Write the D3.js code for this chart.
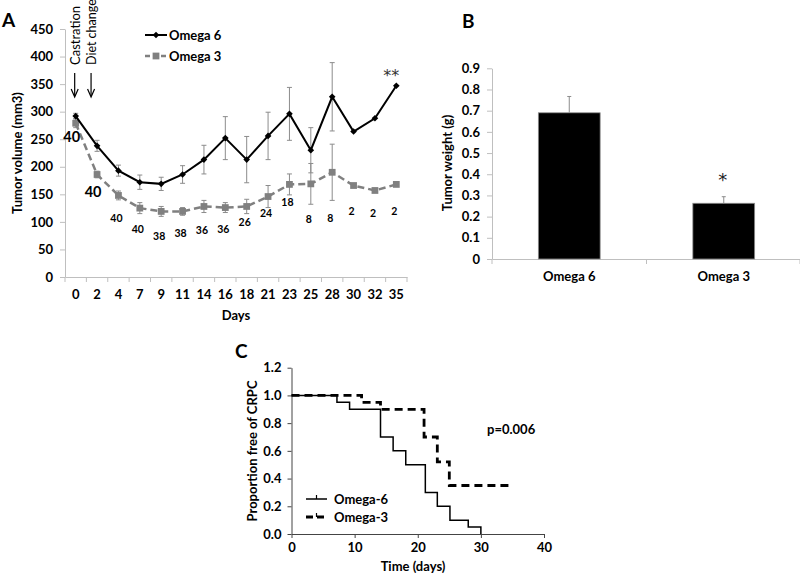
<!DOCTYPE html>
<html>
<head>
<meta charset="utf-8">
<script src="https://cdn.jsdelivr.net/npm/d3@7"></script>
<style>
  body { margin: 0; background: #fff; }
  text { font-family: Lato, "Open Sans", sans-serif; }
  text.star { font-family: "DejaVu Sans", sans-serif; }
</style>
</head>
<body>
<svg id="chart" width="800" height="573"></svg>
<script>
// Panel A: tumor volume by day
var daysA = ["0", "2", "4", "7", "9", "11", "14", "16", "18", "21", "23", "25", "28", "30", "32", "35"];
var omega6Vol = [292, 238, 193, 172, 169, 186, 213, 252, 213, 256, 296, 230, 327, 264, 288, 347];
var omega6Err = [5, 10, 10, 13, 12, 16, 26, 39, 42, 43, 48, 41, 62, null, null, null];
var omega3Vol = [279, 186, 148, 125, 119, 119, 128, 126, 128, 146, 168, 169, 190, 166, 157, 168];
var omega3Err = [8, 6, 8, 10, 9, 7, 11, 9, 13, 20, 19, 37, 51, null, null, null];
// number of mice per day, and the volume level where each count is written
var nMice = [40, 40, 40, 40, 38, 38, 36, 36, 26, 24, 18, 8, 8, 2, 2, 2];
var nLevel = [254, 154, 107, 87, 74, 80, 85, 87, 100, 116, 136, 105, 107, 120, 116, 120];
var volTicks = [0, 50, 100, 150, 200, 250, 300, 350, 400, 450];

// Panel B: tumor weight
var groupsB = ["Omega 6", "Omega 3"];
var weightB = [0.69, 0.263];
var weightErr = [0.077, 0.031];
var weightTicks = [0, 0.1, 0.2, 0.3, 0.4, 0.5, 0.6, 0.7, 0.8, 0.9];

// Panel C: Kaplan-Meier, proportion free of CRPC
var km6Time = [0, 7.2, 9.2, 14.1, 16.1, 18.1, 21.2, 23.1, 25.1, 28, 30];
var km6Prop = [1, 0.95, 0.9, 0.7, 0.6, 0.5, 0.3, 0.2, 0.1, 0.05, 0];
var km3Time = [0, 11.1, 14.1, 21, 23.1, 25, 34.6];
var km3Prop = [1, 0.95, 0.9, 0.7, 0.52, 0.35, 0.35];
var timeTicks = [0, 10, 20, 30, 40];
var propTicks = [0, 0.2, 0.4, 0.6, 0.8, 1.0, 1.2];

var svg = d3.select("#chart");

function styleAxis(g, color, size) {
  g.select(".domain").attr("stroke", color);
  g.selectAll(".tick line").attr("stroke", color);
  g.selectAll(".tick text")
    .attr("fill", "#000")
    .attr("font-size", size)
    .attr("font-weight", "bold");
}

// ---------------- Panel A ----------------
var xA = d3.scaleBand().domain(daysA).range([65, 407]);
var yA = d3.scaleLinear().domain([0, 450]).range([277, 29]);
var cA = function (d) { return xA(d) + xA.bandwidth() / 2; };

var gyA = svg.append("g")
  .attr("transform", "translate(65,0)")
  .call(d3.axisLeft(yA).tickValues(volTicks).tickSize(5).tickSizeOuter(0).tickPadding(7));
styleAxis(gyA, "#bfbfbf", 13);

var gxA = svg.append("g")
  .attr("transform", "translate(0,277)")
  .call(d3.axisBottom(xA).tickSize(0).tickPadding(13));
styleAxis(gxA, "#bfbfbf", 13);

// tick marks between categories
var boundsA = daysA.map(function (d) { return xA(d); }).concat([xA.range()[1]]);
svg.append("g").selectAll("line")
  .data(boundsA)
  .enter()
  .append("line")
  .attr("x1", function (d) { return d; })
  .attr("x2", function (d) { return d; })
  .attr("y1", 277)
  .attr("y2", 282)
  .attr("stroke", "#bfbfbf");

var o6 = daysA.map(function (d, i) { return { day: d, v: omega6Vol[i], e: omega6Err[i] }; });
var o3 = daysA.map(function (d, i) { return { day: d, v: omega3Vol[i], e: omega3Err[i] }; });

function errorBars(data) {
  var g = svg.append("g").attr("stroke", "#8c8c8c").attr("stroke-width", 1);
  data.filter(function (d) { return d.e != null; }).forEach(function (d) {
    var x = cA(d.day);
    g.append("line").attr("x1", x).attr("x2", x).attr("y1", yA(d.v - d.e)).attr("y2", yA(d.v + d.e));
    g.append("line").attr("x1", x - 2.5).attr("x2", x + 2.5).attr("y1", yA(d.v - d.e)).attr("y2", yA(d.v - d.e));
    g.append("line").attr("x1", x - 2.5).attr("x2", x + 2.5).attr("y1", yA(d.v + d.e)).attr("y2", yA(d.v + d.e));
  });
}

var lineA = d3.line()
  .x(function (d) { return cA(d.day); })
  .y(function (d) { return yA(d.v); });

// Omega 3 (grey dashed, squares)
errorBars(o3);
svg.append("path")
  .datum(o3)
  .attr("d", lineA)
  .attr("fill", "none")
  .attr("stroke", "#808080")
  .attr("stroke-width", 2.5)
  .attr("stroke-dasharray", "7,4");
svg.append("g").selectAll("path")
  .data(o3)
  .enter()
  .append("path")
  .attr("d", d3.symbol(d3.symbolSquare, 46))
  .attr("transform", function (d) { return "translate(" + cA(d.day) + "," + yA(d.v) + ")"; })
  .attr("fill", "#808080");

// Omega 6 (black solid, diamonds)
errorBars(o6);
svg.append("path")
  .datum(o6)
  .attr("d", lineA)
  .attr("fill", "none")
  .attr("stroke", "#000")
  .attr("stroke-width", 2);
svg.append("g").selectAll("path")
  .data(o6)
  .enter()
  .append("path")
  .attr("d", d3.symbol(d3.symbolSquare, 22))
  .attr("transform", function (d) { return "translate(" + cA(d.day) + "," + yA(d.v) + ") rotate(45)"; })
  .attr("fill", "#000");

// n labels
svg.append("g").selectAll("text")
  .data(nMice)
  .enter()
  .append("text")
  .attr("x", function (d, i) { return cA(daysA[i]) - (i < 2 ? 4 : 2); })
  .attr("y", function (d, i) { return yA(nLevel[i]); })
  .attr("dy", "0.35em")
  .attr("text-anchor", "middle")
  .attr("font-size", function (d, i) { return i < 2 ? 14.5 : 10.5; })
  .attr("font-weight", "bold")
  .text(function (d) { return d; });

// significance
svg.append("text")
  .attr("class", "star")
  .attr("x", cA("35") - 5)
  .attr("y", yA(omega6Vol[15]) - 5)
  .attr("text-anchor", "middle")
  .attr("font-size", 16)
  .attr("fill", "#333")
  .text("**");

// castration / diet change annotations
[["Castration", cA("0") - 1, 13], ["Diet change", cA("2") - 6, 12.5]].forEach(function (a) {
  svg.append("text")
    .attr("transform", "translate(" + (a[1] + 5) + ",65) rotate(-90)")
    .attr("font-size", a[2])
    .text(a[0]);
  svg.append("line")
    .attr("x1", a[1]).attr("x2", a[1])
    .attr("y1", 73).attr("y2", 96)
    .attr("stroke", "#000").attr("stroke-width", 1.2);
  svg.append("path")
    .attr("d", "M" + (a[1] - 3.5) + ",89 L" + a[1] + ",97 L" + (a[1] + 3.5) + ",89")
    .attr("fill", "none").attr("stroke", "#000").attr("stroke-width", 1.2);
});

// legend A
var legA = svg.append("g");
legA.append("line").attr("x1", 145).attr("x2", 167).attr("y1", 35).attr("y2", 35)
  .attr("stroke", "#000").attr("stroke-width", 2);
legA.append("path").attr("d", d3.symbol(d3.symbolSquare, 22))
  .attr("transform", "translate(156,35) rotate(45)");
legA.append("text").attr("x", 169).attr("y", 35).attr("dy", "0.35em")
  .attr("font-size", 13).attr("font-weight", "bold").text("Omega 6");
legA.append("line").attr("x1", 145).attr("x2", 167).attr("y1", 56).attr("y2", 56)
  .attr("stroke", "#808080").attr("stroke-width", 2.5).attr("stroke-dasharray", "5,3");
legA.append("path").attr("d", d3.symbol(d3.symbolSquare, 46))
  .attr("transform", "translate(156,56)").attr("fill", "#808080");
legA.append("text").attr("x", 169).attr("y", 56).attr("dy", "0.35em")
  .attr("font-size", 13).attr("font-weight", "bold").text("Omega 3");

svg.append("text")
  .attr("transform", "translate(22,153) rotate(-90)")
  .attr("text-anchor", "middle")
  .attr("font-size", 13).attr("font-weight", "bold")
  .text("Tumor volume (mm3)");
svg.append("text")
  .attr("x", 236).attr("y", 320)
  .attr("text-anchor", "middle")
  .attr("font-size", 13).attr("font-weight", "bold")
  .text("Days");
svg.append("text").attr("x", 2).attr("y", 27)
  .attr("font-size", 19).attr("font-weight", "bold").text("A");

// ---------------- Panel B ----------------
var xBcat = d3.scaleBand().domain(groupsB).range([492, 801]);
var xB = d3.scaleBand().domain(groupsB).range([492, 801]).paddingInner(0.6).paddingOuter(0.3);
var yB = d3.scaleLinear().domain([0, 0.9]).range([259, 68.3]);

var gyB = svg.append("g")
  .attr("transform", "translate(492,0)")
  .call(d3.axisLeft(yB).tickValues(weightTicks).tickSize(5).tickSizeOuter(0).tickPadding(7)
    .tickFormat(function (d) { return d === 0 ? "0" : d3.format(".1f")(d); }));
styleAxis(gyB, "#bfbfbf", 13);

var gxB = svg.append("g")
  .attr("transform", "translate(0,259)")
  .call(d3.axisBottom(xBcat).tickSize(0).tickPadding(13));
styleAxis(gxB, "#bfbfbf", 13);

var boundsB = groupsB.map(function (d) { return xBcat(d); }).concat([xBcat.range()[1] - 1]);
svg.append("g").selectAll("line")
  .data(boundsB)
  .enter()
  .append("line")
  .attr("x1", function (d) { return d; })
  .attr("x2", function (d) { return d; })
  .attr("y1", 259)
  .attr("y2", 264)
  .attr("stroke", "#bfbfbf");

svg.append("g").selectAll("rect")
  .data(groupsB)
  .enter()
  .append("rect")
  .attr("x", function (d) { return xB(d); })
  .attr("width", xB.bandwidth())
  .attr("y", function (d, i) { return yB(weightB[i]); })
  .attr("height", function (d, i) { return yB(0) - yB(weightB[i]); })
  .attr("fill", "#000")
  .attr("stroke", "#8c8c8c")
  .attr("stroke-width", 0.8);

groupsB.forEach(function (g, i) {
  var x = xB(g) + xB.bandwidth() / 2;
  var top = yB(weightB[i] + weightErr[i]);
  svg.append("line").attr("x1", x).attr("x2", x).attr("y1", yB(weightB[i])).attr("y2", top)
    .attr("stroke", "#8c8c8c");
  svg.append("line").attr("x1", x - 2).attr("x2", x + 2).attr("y1", top).attr("y2", top)
    .attr("stroke", "#8c8c8c");
});

svg.append("text")
  .attr("class", "star")
  .attr("x", xB("Omega 3") + xB.bandwidth() / 2 - 1)
  .attr("y", yB(weightB[1] + weightErr[1]) - 11)
  .attr("text-anchor", "middle")
  .attr("font-size", 18)
  .attr("fill", "#222")
  .text("*");

svg.append("text")
  .attr("transform", "translate(452,163) rotate(-90)")
  .attr("text-anchor", "middle")
  .attr("font-size", 13).attr("font-weight", "bold")
  .text("Tumor weight (g)");
svg.append("text").attr("x", 462).attr("y", 28)
  .attr("font-size", 19).attr("font-weight", "bold").text("B");

// ---------------- Panel C ----------------
var xC = d3.scaleLinear().domain([0, 40]).range([291.5, 544]);
var yC = d3.scaleLinear().domain([0, 1.2]).range([534, 367.7]);

var gyC = svg.append("g")
  .attr("transform", "translate(291.5,0)")
  .call(d3.axisLeft(yC).tickValues(propTicks).tickSize(4).tickSizeOuter(0).tickPadding(6)
    .tickFormat(d3.format(".1f")));
styleAxis(gyC, "#444", 13);

var gxC = svg.append("g")
  .attr("transform", "translate(0,534)")
  .call(d3.axisBottom(xC).tickValues(timeTicks).tickSize(4).tickSizeOuter(0).tickPadding(5));
styleAxis(gxC, "#444", 13);

var km6 = km6Time.map(function (t, i) { return { t: t, p: km6Prop[i] }; });
var km3 = km3Time.map(function (t, i) { return { t: t, p: km3Prop[i] }; });
var lineC = d3.line()
  .curve(d3.curveStepAfter)
  .x(function (d) { return xC(d.t); })
  .y(function (d) { return yC(d.p); });

svg.append("path").datum(km3).attr("d", lineC)
  .attr("fill", "none").attr("stroke", "#000").attr("stroke-width", 2.8)
  .attr("stroke-dasharray", "8,5");
svg.append("path").datum(km6).attr("d", lineC)
  .attr("fill", "none").attr("stroke", "#000").attr("stroke-width", 1.5);

// legend C
var legC = svg.append("g");
legC.append("line").attr("x1", 306).attr("x2", 327).attr("y1", 499).attr("y2", 499)
  .attr("stroke", "#000").attr("stroke-width", 1.5);
legC.append("line").attr("x1", 316.5).attr("x2", 316.5).attr("y1", 495).attr("y2", 499)
  .attr("stroke", "#000").attr("stroke-width", 1.2);
legC.append("text").attr("x", 334).attr("y", 499).attr("dy", "0.35em")
  .attr("font-size", 13).attr("font-weight", "bold").text("Omega-6");
legC.append("line").attr("x1", 306).attr("x2", 327).attr("y1", 517).attr("y2", 517)
  .attr("stroke", "#000").attr("stroke-width", 2.8).attr("stroke-dasharray", "7,4");
legC.append("line").attr("x1", 316.5).attr("x2", 316.5).attr("y1", 513).attr("y2", 517)
  .attr("stroke", "#000").attr("stroke-width", 1.2);
legC.append("text").attr("x", 334).attr("y", 517).attr("dy", "0.35em")
  .attr("font-size", 13).attr("font-weight", "bold").text("Omega-3");

svg.append("text").attr("x", 487).attr("y", 429).attr("dy", "0.35em")
  .attr("font-size", 13).attr("font-weight", "bold").text("p=0.006");

svg.append("text")
  .attr("transform", "translate(257,451) rotate(-90)")
  .attr("text-anchor", "middle")
  .attr("font-size", 13).attr("font-weight", "bold")
  .text("Proportion free of CRPC");
svg.append("text")
  .attr("x", 413).attr("y", 571)
  .attr("text-anchor", "middle")
  .attr("font-size", 13).attr("font-weight", "bold")
  .text("Time (days)");
svg.append("text").attr("x", 235).attr("y", 358)
  .attr("font-size", 19).attr("font-weight", "bold").text("C");
</script>
</body>
</html>
